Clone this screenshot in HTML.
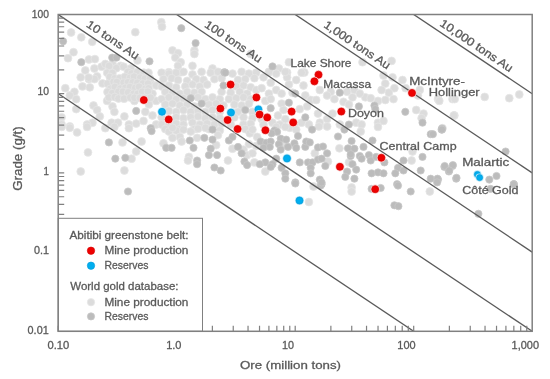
<!DOCTYPE html>
<html><head><meta charset="utf-8"><style>
html,body{margin:0;padding:0;background:#fff;width:550px;height:379px;overflow:hidden}
text{font-family:"Liberation Sans",sans-serif}
svg{will-change:transform}
</style></head><body>
<svg width="550" height="379" viewBox="0 0 550 379" style="display:block">
<rect width="550" height="379" fill="#fff"/>
<defs><clipPath id="pc"><rect x="58.2" y="14.5" width="474.00000000000006" height="316.8"/></clipPath></defs>
<g clip-path="url(#pc)">
<circle cx="71.1" cy="32.5" r="3.9" fill="#dcdcdc" stroke="#e6e6e6" stroke-width="0.8"/>
<circle cx="81.3" cy="37.3" r="3.9" fill="#dcdcdc" stroke="#e6e6e6" stroke-width="0.8"/>
<circle cx="92.2" cy="41.8" r="3.9" fill="#dcdcdc" stroke="#e6e6e6" stroke-width="0.8"/>
<circle cx="135.3" cy="32.2" r="3.9" fill="#dcdcdc" stroke="#e6e6e6" stroke-width="0.8"/>
<circle cx="73.5" cy="52.2" r="3.9" fill="#dcdcdc" stroke="#e6e6e6" stroke-width="0.8"/>
<circle cx="68.0" cy="58.2" r="3.9" fill="#dcdcdc" stroke="#e6e6e6" stroke-width="0.8"/>
<circle cx="88.9" cy="59.5" r="3.9" fill="#dcdcdc" stroke="#e6e6e6" stroke-width="0.8"/>
<circle cx="94.9" cy="59.1" r="3.9" fill="#dcdcdc" stroke="#e6e6e6" stroke-width="0.8"/>
<circle cx="137.5" cy="60.4" r="3.9" fill="#dcdcdc" stroke="#e6e6e6" stroke-width="0.8"/>
<circle cx="85.3" cy="70.4" r="3.9" fill="#dcdcdc" stroke="#e6e6e6" stroke-width="0.8"/>
<circle cx="94.4" cy="68.5" r="3.9" fill="#dcdcdc" stroke="#e6e6e6" stroke-width="0.8"/>
<circle cx="101.6" cy="66.7" r="3.9" fill="#dcdcdc" stroke="#e6e6e6" stroke-width="0.8"/>
<circle cx="105.3" cy="64.0" r="3.9" fill="#dcdcdc" stroke="#e6e6e6" stroke-width="0.8"/>
<circle cx="112.5" cy="64.0" r="3.9" fill="#dcdcdc" stroke="#e6e6e6" stroke-width="0.8"/>
<circle cx="120.7" cy="65.8" r="3.9" fill="#dcdcdc" stroke="#e6e6e6" stroke-width="0.8"/>
<circle cx="130.7" cy="68.5" r="3.9" fill="#dcdcdc" stroke="#e6e6e6" stroke-width="0.8"/>
<circle cx="161.3" cy="22.2" r="3.9" fill="#dcdcdc" stroke="#e6e6e6" stroke-width="0.8"/>
<circle cx="162.0" cy="26.7" r="3.9" fill="#dcdcdc" stroke="#e6e6e6" stroke-width="0.8"/>
<circle cx="194.4" cy="50.4" r="3.9" fill="#dcdcdc" stroke="#e6e6e6" stroke-width="0.8"/>
<circle cx="194.4" cy="54.0" r="3.9" fill="#dcdcdc" stroke="#e6e6e6" stroke-width="0.8"/>
<circle cx="172.5" cy="50.4" r="3.9" fill="#dcdcdc" stroke="#e6e6e6" stroke-width="0.8"/>
<circle cx="178.0" cy="53.1" r="3.9" fill="#dcdcdc" stroke="#e6e6e6" stroke-width="0.8"/>
<circle cx="175.3" cy="57.6" r="3.9" fill="#dcdcdc" stroke="#e6e6e6" stroke-width="0.8"/>
<circle cx="180.7" cy="62.2" r="3.9" fill="#dcdcdc" stroke="#e6e6e6" stroke-width="0.8"/>
<circle cx="178.0" cy="65.8" r="3.9" fill="#dcdcdc" stroke="#e6e6e6" stroke-width="0.8"/>
<circle cx="192.5" cy="65.8" r="3.9" fill="#dcdcdc" stroke="#e6e6e6" stroke-width="0.8"/>
<circle cx="212.5" cy="68.5" r="3.9" fill="#dcdcdc" stroke="#e6e6e6" stroke-width="0.8"/>
<circle cx="218.0" cy="72.2" r="3.9" fill="#dcdcdc" stroke="#e6e6e6" stroke-width="0.8"/>
<circle cx="168.9" cy="72.2" r="3.9" fill="#dcdcdc" stroke="#e6e6e6" stroke-width="0.8"/>
<circle cx="181.6" cy="72.2" r="3.9" fill="#dcdcdc" stroke="#e6e6e6" stroke-width="0.8"/>
<circle cx="250.7" cy="54.0" r="3.9" fill="#dcdcdc" stroke="#e6e6e6" stroke-width="0.8"/>
<circle cx="278.9" cy="68.5" r="3.9" fill="#dcdcdc" stroke="#e6e6e6" stroke-width="0.8"/>
<circle cx="268.9" cy="72.2" r="3.9" fill="#dcdcdc" stroke="#e6e6e6" stroke-width="0.8"/>
<circle cx="288.9" cy="62.2" r="3.9" fill="#dcdcdc" stroke="#e6e6e6" stroke-width="0.8"/>
<circle cx="287.1" cy="72.5" r="3.9" fill="#dcdcdc" stroke="#e6e6e6" stroke-width="0.8"/>
<circle cx="304.4" cy="72.5" r="3.9" fill="#dcdcdc" stroke="#e6e6e6" stroke-width="0.8"/>
<circle cx="362.5" cy="62.2" r="3.9" fill="#dcdcdc" stroke="#e6e6e6" stroke-width="0.8"/>
<circle cx="391.6" cy="60.9" r="3.9" fill="#dcdcdc" stroke="#e6e6e6" stroke-width="0.8"/>
<circle cx="80.7" cy="77.3" r="3.9" fill="#dcdcdc" stroke="#e6e6e6" stroke-width="0.8"/>
<circle cx="88.9" cy="79.1" r="3.9" fill="#dcdcdc" stroke="#e6e6e6" stroke-width="0.8"/>
<circle cx="97.1" cy="76.4" r="3.9" fill="#dcdcdc" stroke="#e6e6e6" stroke-width="0.8"/>
<circle cx="82.5" cy="86.4" r="3.9" fill="#dcdcdc" stroke="#e6e6e6" stroke-width="0.8"/>
<circle cx="89.8" cy="87.3" r="3.9" fill="#dcdcdc" stroke="#e6e6e6" stroke-width="0.8"/>
<circle cx="150.7" cy="82.7" r="3.9" fill="#dcdcdc" stroke="#e6e6e6" stroke-width="0.8"/>
<circle cx="156.2" cy="85.5" r="3.9" fill="#dcdcdc" stroke="#e6e6e6" stroke-width="0.8"/>
<circle cx="65.3" cy="88.2" r="3.9" fill="#dcdcdc" stroke="#e6e6e6" stroke-width="0.8"/>
<circle cx="74.4" cy="91.8" r="3.9" fill="#dcdcdc" stroke="#e6e6e6" stroke-width="0.8"/>
<circle cx="69.8" cy="95.5" r="3.9" fill="#dcdcdc" stroke="#e6e6e6" stroke-width="0.8"/>
<circle cx="76.2" cy="99.1" r="3.9" fill="#dcdcdc" stroke="#e6e6e6" stroke-width="0.8"/>
<circle cx="134.4" cy="100.9" r="3.9" fill="#dcdcdc" stroke="#e6e6e6" stroke-width="0.8"/>
<circle cx="152.5" cy="93.6" r="3.9" fill="#dcdcdc" stroke="#e6e6e6" stroke-width="0.8"/>
<circle cx="156.2" cy="100.9" r="3.9" fill="#dcdcdc" stroke="#e6e6e6" stroke-width="0.8"/>
<circle cx="148.9" cy="104.5" r="3.9" fill="#dcdcdc" stroke="#e6e6e6" stroke-width="0.8"/>
<circle cx="93.5" cy="105.5" r="3.9" fill="#dcdcdc" stroke="#e6e6e6" stroke-width="0.8"/>
<circle cx="97.1" cy="110.0" r="3.9" fill="#dcdcdc" stroke="#e6e6e6" stroke-width="0.8"/>
<circle cx="112.5" cy="106.4" r="3.9" fill="#dcdcdc" stroke="#e6e6e6" stroke-width="0.8"/>
<circle cx="114.4" cy="111.8" r="3.9" fill="#dcdcdc" stroke="#e6e6e6" stroke-width="0.8"/>
<circle cx="76.2" cy="109.1" r="3.9" fill="#dcdcdc" stroke="#e6e6e6" stroke-width="0.8"/>
<circle cx="145.3" cy="111.8" r="3.9" fill="#dcdcdc" stroke="#e6e6e6" stroke-width="0.8"/>
<circle cx="152.5" cy="115.5" r="3.9" fill="#dcdcdc" stroke="#e6e6e6" stroke-width="0.8"/>
<circle cx="124.4" cy="116.4" r="3.9" fill="#dcdcdc" stroke="#e6e6e6" stroke-width="0.8"/>
<circle cx="99.8" cy="116.4" r="3.9" fill="#dcdcdc" stroke="#e6e6e6" stroke-width="0.8"/>
<circle cx="92.5" cy="122.7" r="3.9" fill="#dcdcdc" stroke="#e6e6e6" stroke-width="0.8"/>
<circle cx="87.1" cy="124.5" r="3.9" fill="#dcdcdc" stroke="#e6e6e6" stroke-width="0.8"/>
<circle cx="61.6" cy="117.3" r="3.9" fill="#dcdcdc" stroke="#e6e6e6" stroke-width="0.8"/>
<circle cx="61.6" cy="124.5" r="3.9" fill="#dcdcdc" stroke="#e6e6e6" stroke-width="0.8"/>
<circle cx="69.8" cy="126.4" r="3.9" fill="#dcdcdc" stroke="#e6e6e6" stroke-width="0.8"/>
<circle cx="111.6" cy="122.7" r="3.9" fill="#dcdcdc" stroke="#e6e6e6" stroke-width="0.8"/>
<circle cx="118.0" cy="122.7" r="3.9" fill="#dcdcdc" stroke="#e6e6e6" stroke-width="0.8"/>
<circle cx="128.9" cy="124.5" r="3.9" fill="#dcdcdc" stroke="#e6e6e6" stroke-width="0.8"/>
<circle cx="136.2" cy="123.6" r="3.9" fill="#dcdcdc" stroke="#e6e6e6" stroke-width="0.8"/>
<circle cx="143.5" cy="120.9" r="3.9" fill="#dcdcdc" stroke="#e6e6e6" stroke-width="0.8"/>
<circle cx="156.2" cy="124.5" r="3.9" fill="#dcdcdc" stroke="#e6e6e6" stroke-width="0.8"/>
<circle cx="107.1" cy="100.9" r="3.9" fill="#dcdcdc" stroke="#e6e6e6" stroke-width="0.8"/>
<circle cx="161.6" cy="72.7" r="3.9" fill="#dcdcdc" stroke="#e6e6e6" stroke-width="0.8"/>
<circle cx="168.9" cy="73.6" r="3.9" fill="#dcdcdc" stroke="#e6e6e6" stroke-width="0.8"/>
<circle cx="176.2" cy="72.7" r="3.9" fill="#dcdcdc" stroke="#e6e6e6" stroke-width="0.8"/>
<circle cx="183.5" cy="71.8" r="3.9" fill="#dcdcdc" stroke="#e6e6e6" stroke-width="0.8"/>
<circle cx="192.5" cy="74.5" r="3.9" fill="#dcdcdc" stroke="#e6e6e6" stroke-width="0.8"/>
<circle cx="201.6" cy="71.8" r="3.9" fill="#dcdcdc" stroke="#e6e6e6" stroke-width="0.8"/>
<circle cx="210.7" cy="72.7" r="3.9" fill="#dcdcdc" stroke="#e6e6e6" stroke-width="0.8"/>
<circle cx="218.0" cy="71.8" r="3.9" fill="#dcdcdc" stroke="#e6e6e6" stroke-width="0.8"/>
<circle cx="232.5" cy="73.6" r="3.9" fill="#dcdcdc" stroke="#e6e6e6" stroke-width="0.8"/>
<circle cx="241.6" cy="71.8" r="3.9" fill="#dcdcdc" stroke="#e6e6e6" stroke-width="0.8"/>
<circle cx="248.9" cy="73.6" r="3.9" fill="#dcdcdc" stroke="#e6e6e6" stroke-width="0.8"/>
<circle cx="256.2" cy="72.7" r="3.9" fill="#dcdcdc" stroke="#e6e6e6" stroke-width="0.8"/>
<circle cx="163.5" cy="79.1" r="3.9" fill="#dcdcdc" stroke="#e6e6e6" stroke-width="0.8"/>
<circle cx="171.6" cy="78.2" r="3.9" fill="#dcdcdc" stroke="#e6e6e6" stroke-width="0.8"/>
<circle cx="178.0" cy="80.0" r="3.9" fill="#dcdcdc" stroke="#e6e6e6" stroke-width="0.8"/>
<circle cx="187.1" cy="80.9" r="3.9" fill="#dcdcdc" stroke="#e6e6e6" stroke-width="0.8"/>
<circle cx="196.2" cy="79.1" r="3.9" fill="#dcdcdc" stroke="#e6e6e6" stroke-width="0.8"/>
<circle cx="203.5" cy="80.0" r="3.9" fill="#dcdcdc" stroke="#e6e6e6" stroke-width="0.8"/>
<circle cx="214.4" cy="79.1" r="3.9" fill="#dcdcdc" stroke="#e6e6e6" stroke-width="0.8"/>
<circle cx="221.6" cy="78.2" r="3.9" fill="#dcdcdc" stroke="#e6e6e6" stroke-width="0.8"/>
<circle cx="238.0" cy="80.0" r="3.9" fill="#dcdcdc" stroke="#e6e6e6" stroke-width="0.8"/>
<circle cx="245.3" cy="79.1" r="3.9" fill="#dcdcdc" stroke="#e6e6e6" stroke-width="0.8"/>
<circle cx="254.4" cy="78.2" r="3.9" fill="#dcdcdc" stroke="#e6e6e6" stroke-width="0.8"/>
<circle cx="161.6" cy="86.4" r="3.9" fill="#dcdcdc" stroke="#e6e6e6" stroke-width="0.8"/>
<circle cx="168.9" cy="85.5" r="3.9" fill="#dcdcdc" stroke="#e6e6e6" stroke-width="0.8"/>
<circle cx="176.2" cy="87.3" r="3.9" fill="#dcdcdc" stroke="#e6e6e6" stroke-width="0.8"/>
<circle cx="185.3" cy="86.4" r="3.9" fill="#dcdcdc" stroke="#e6e6e6" stroke-width="0.8"/>
<circle cx="192.5" cy="84.5" r="3.9" fill="#dcdcdc" stroke="#e6e6e6" stroke-width="0.8"/>
<circle cx="199.8" cy="86.4" r="3.9" fill="#dcdcdc" stroke="#e6e6e6" stroke-width="0.8"/>
<circle cx="207.1" cy="84.5" r="3.9" fill="#dcdcdc" stroke="#e6e6e6" stroke-width="0.8"/>
<circle cx="236.2" cy="86.4" r="3.9" fill="#dcdcdc" stroke="#e6e6e6" stroke-width="0.8"/>
<circle cx="243.5" cy="85.5" r="3.9" fill="#dcdcdc" stroke="#e6e6e6" stroke-width="0.8"/>
<circle cx="250.7" cy="87.3" r="3.9" fill="#dcdcdc" stroke="#e6e6e6" stroke-width="0.8"/>
<circle cx="165.3" cy="91.8" r="3.9" fill="#dcdcdc" stroke="#e6e6e6" stroke-width="0.8"/>
<circle cx="172.5" cy="92.7" r="3.9" fill="#dcdcdc" stroke="#e6e6e6" stroke-width="0.8"/>
<circle cx="179.8" cy="93.6" r="3.9" fill="#dcdcdc" stroke="#e6e6e6" stroke-width="0.8"/>
<circle cx="187.1" cy="91.8" r="3.9" fill="#dcdcdc" stroke="#e6e6e6" stroke-width="0.8"/>
<circle cx="194.4" cy="92.7" r="3.9" fill="#dcdcdc" stroke="#e6e6e6" stroke-width="0.8"/>
<circle cx="201.6" cy="91.8" r="3.9" fill="#dcdcdc" stroke="#e6e6e6" stroke-width="0.8"/>
<circle cx="221.6" cy="91.8" r="3.9" fill="#dcdcdc" stroke="#e6e6e6" stroke-width="0.8"/>
<circle cx="230.7" cy="92.7" r="3.9" fill="#dcdcdc" stroke="#e6e6e6" stroke-width="0.8"/>
<circle cx="239.8" cy="91.8" r="3.9" fill="#dcdcdc" stroke="#e6e6e6" stroke-width="0.8"/>
<circle cx="247.1" cy="93.6" r="3.9" fill="#dcdcdc" stroke="#e6e6e6" stroke-width="0.8"/>
<circle cx="256.2" cy="90.0" r="3.9" fill="#dcdcdc" stroke="#e6e6e6" stroke-width="0.8"/>
<circle cx="161.6" cy="99.1" r="3.9" fill="#dcdcdc" stroke="#e6e6e6" stroke-width="0.8"/>
<circle cx="168.9" cy="97.3" r="3.9" fill="#dcdcdc" stroke="#e6e6e6" stroke-width="0.8"/>
<circle cx="176.2" cy="99.1" r="3.9" fill="#dcdcdc" stroke="#e6e6e6" stroke-width="0.8"/>
<circle cx="183.5" cy="98.2" r="3.9" fill="#dcdcdc" stroke="#e6e6e6" stroke-width="0.8"/>
<circle cx="198.0" cy="97.3" r="3.9" fill="#dcdcdc" stroke="#e6e6e6" stroke-width="0.8"/>
<circle cx="205.3" cy="99.1" r="3.9" fill="#dcdcdc" stroke="#e6e6e6" stroke-width="0.8"/>
<circle cx="212.5" cy="97.3" r="3.9" fill="#dcdcdc" stroke="#e6e6e6" stroke-width="0.8"/>
<circle cx="219.8" cy="99.1" r="3.9" fill="#dcdcdc" stroke="#e6e6e6" stroke-width="0.8"/>
<circle cx="228.9" cy="99.1" r="3.9" fill="#dcdcdc" stroke="#e6e6e6" stroke-width="0.8"/>
<circle cx="236.2" cy="98.2" r="3.9" fill="#dcdcdc" stroke="#e6e6e6" stroke-width="0.8"/>
<circle cx="243.5" cy="97.3" r="3.9" fill="#dcdcdc" stroke="#e6e6e6" stroke-width="0.8"/>
<circle cx="250.7" cy="99.1" r="3.9" fill="#dcdcdc" stroke="#e6e6e6" stroke-width="0.8"/>
<circle cx="165.3" cy="104.5" r="3.9" fill="#dcdcdc" stroke="#e6e6e6" stroke-width="0.8"/>
<circle cx="172.5" cy="103.6" r="3.9" fill="#dcdcdc" stroke="#e6e6e6" stroke-width="0.8"/>
<circle cx="179.8" cy="105.5" r="3.9" fill="#dcdcdc" stroke="#e6e6e6" stroke-width="0.8"/>
<circle cx="187.1" cy="104.5" r="3.9" fill="#dcdcdc" stroke="#e6e6e6" stroke-width="0.8"/>
<circle cx="194.4" cy="106.4" r="3.9" fill="#dcdcdc" stroke="#e6e6e6" stroke-width="0.8"/>
<circle cx="208.9" cy="104.5" r="3.9" fill="#dcdcdc" stroke="#e6e6e6" stroke-width="0.8"/>
<circle cx="216.2" cy="103.6" r="3.9" fill="#dcdcdc" stroke="#e6e6e6" stroke-width="0.8"/>
<circle cx="223.5" cy="105.5" r="3.9" fill="#dcdcdc" stroke="#e6e6e6" stroke-width="0.8"/>
<circle cx="234.4" cy="104.5" r="3.9" fill="#dcdcdc" stroke="#e6e6e6" stroke-width="0.8"/>
<circle cx="241.6" cy="105.5" r="3.9" fill="#dcdcdc" stroke="#e6e6e6" stroke-width="0.8"/>
<circle cx="248.9" cy="103.6" r="3.9" fill="#dcdcdc" stroke="#e6e6e6" stroke-width="0.8"/>
<circle cx="168.9" cy="110.9" r="3.9" fill="#dcdcdc" stroke="#e6e6e6" stroke-width="0.8"/>
<circle cx="176.2" cy="111.8" r="3.9" fill="#dcdcdc" stroke="#e6e6e6" stroke-width="0.8"/>
<circle cx="183.5" cy="110.0" r="3.9" fill="#dcdcdc" stroke="#e6e6e6" stroke-width="0.8"/>
<circle cx="190.7" cy="111.8" r="3.9" fill="#dcdcdc" stroke="#e6e6e6" stroke-width="0.8"/>
<circle cx="198.0" cy="110.9" r="3.9" fill="#dcdcdc" stroke="#e6e6e6" stroke-width="0.8"/>
<circle cx="205.3" cy="111.8" r="3.9" fill="#dcdcdc" stroke="#e6e6e6" stroke-width="0.8"/>
<circle cx="212.5" cy="110.0" r="3.9" fill="#dcdcdc" stroke="#e6e6e6" stroke-width="0.8"/>
<circle cx="219.8" cy="111.8" r="3.9" fill="#dcdcdc" stroke="#e6e6e6" stroke-width="0.8"/>
<circle cx="238.0" cy="111.8" r="3.9" fill="#dcdcdc" stroke="#e6e6e6" stroke-width="0.8"/>
<circle cx="252.5" cy="111.8" r="3.9" fill="#dcdcdc" stroke="#e6e6e6" stroke-width="0.8"/>
<circle cx="161.6" cy="117.3" r="3.9" fill="#dcdcdc" stroke="#e6e6e6" stroke-width="0.8"/>
<circle cx="176.2" cy="117.3" r="3.9" fill="#dcdcdc" stroke="#e6e6e6" stroke-width="0.8"/>
<circle cx="183.5" cy="118.2" r="3.9" fill="#dcdcdc" stroke="#e6e6e6" stroke-width="0.8"/>
<circle cx="190.7" cy="117.3" r="3.9" fill="#dcdcdc" stroke="#e6e6e6" stroke-width="0.8"/>
<circle cx="198.0" cy="116.4" r="3.9" fill="#dcdcdc" stroke="#e6e6e6" stroke-width="0.8"/>
<circle cx="205.3" cy="118.2" r="3.9" fill="#dcdcdc" stroke="#e6e6e6" stroke-width="0.8"/>
<circle cx="212.5" cy="117.3" r="3.9" fill="#dcdcdc" stroke="#e6e6e6" stroke-width="0.8"/>
<circle cx="219.8" cy="118.2" r="3.9" fill="#dcdcdc" stroke="#e6e6e6" stroke-width="0.8"/>
<circle cx="234.4" cy="117.3" r="3.9" fill="#dcdcdc" stroke="#e6e6e6" stroke-width="0.8"/>
<circle cx="243.5" cy="117.3" r="3.9" fill="#dcdcdc" stroke="#e6e6e6" stroke-width="0.8"/>
<circle cx="252.5" cy="118.2" r="3.9" fill="#dcdcdc" stroke="#e6e6e6" stroke-width="0.8"/>
<circle cx="161.6" cy="124.5" r="3.9" fill="#dcdcdc" stroke="#e6e6e6" stroke-width="0.8"/>
<circle cx="168.9" cy="124.5" r="3.9" fill="#dcdcdc" stroke="#e6e6e6" stroke-width="0.8"/>
<circle cx="176.2" cy="123.6" r="3.9" fill="#dcdcdc" stroke="#e6e6e6" stroke-width="0.8"/>
<circle cx="183.5" cy="124.5" r="3.9" fill="#dcdcdc" stroke="#e6e6e6" stroke-width="0.8"/>
<circle cx="192.5" cy="122.7" r="3.9" fill="#dcdcdc" stroke="#e6e6e6" stroke-width="0.8"/>
<circle cx="199.8" cy="124.5" r="3.9" fill="#dcdcdc" stroke="#e6e6e6" stroke-width="0.8"/>
<circle cx="207.1" cy="123.6" r="3.9" fill="#dcdcdc" stroke="#e6e6e6" stroke-width="0.8"/>
<circle cx="214.4" cy="124.5" r="3.9" fill="#dcdcdc" stroke="#e6e6e6" stroke-width="0.8"/>
<circle cx="221.6" cy="123.6" r="3.9" fill="#dcdcdc" stroke="#e6e6e6" stroke-width="0.8"/>
<circle cx="230.7" cy="124.5" r="3.9" fill="#dcdcdc" stroke="#e6e6e6" stroke-width="0.8"/>
<circle cx="243.5" cy="124.5" r="3.9" fill="#dcdcdc" stroke="#e6e6e6" stroke-width="0.8"/>
<circle cx="250.7" cy="123.6" r="3.9" fill="#dcdcdc" stroke="#e6e6e6" stroke-width="0.8"/>
<circle cx="165.3" cy="129.1" r="3.9" fill="#dcdcdc" stroke="#e6e6e6" stroke-width="0.8"/>
<circle cx="179.8" cy="129.1" r="3.9" fill="#dcdcdc" stroke="#e6e6e6" stroke-width="0.8"/>
<circle cx="194.4" cy="129.1" r="3.9" fill="#dcdcdc" stroke="#e6e6e6" stroke-width="0.8"/>
<circle cx="208.9" cy="129.1" r="3.9" fill="#dcdcdc" stroke="#e6e6e6" stroke-width="0.8"/>
<circle cx="245.3" cy="129.1" r="3.9" fill="#dcdcdc" stroke="#e6e6e6" stroke-width="0.8"/>
<circle cx="263.5" cy="77.3" r="3.9" fill="#dcdcdc" stroke="#e6e6e6" stroke-width="0.8"/>
<circle cx="270.7" cy="82.7" r="3.9" fill="#dcdcdc" stroke="#e6e6e6" stroke-width="0.8"/>
<circle cx="261.6" cy="88.2" r="3.9" fill="#dcdcdc" stroke="#e6e6e6" stroke-width="0.8"/>
<circle cx="268.9" cy="93.6" r="3.9" fill="#dcdcdc" stroke="#e6e6e6" stroke-width="0.8"/>
<circle cx="276.2" cy="90.0" r="3.9" fill="#dcdcdc" stroke="#e6e6e6" stroke-width="0.8"/>
<circle cx="281.6" cy="93.6" r="3.9" fill="#dcdcdc" stroke="#e6e6e6" stroke-width="0.8"/>
<circle cx="287.1" cy="77.3" r="3.9" fill="#dcdcdc" stroke="#e6e6e6" stroke-width="0.8"/>
<circle cx="288.9" cy="84.5" r="3.9" fill="#dcdcdc" stroke="#e6e6e6" stroke-width="0.8"/>
<circle cx="296.2" cy="80.0" r="3.9" fill="#dcdcdc" stroke="#e6e6e6" stroke-width="0.8"/>
<circle cx="303.5" cy="85.5" r="3.9" fill="#dcdcdc" stroke="#e6e6e6" stroke-width="0.8"/>
<circle cx="301.6" cy="72.7" r="3.9" fill="#dcdcdc" stroke="#e6e6e6" stroke-width="0.8"/>
<circle cx="285.3" cy="71.8" r="3.9" fill="#dcdcdc" stroke="#e6e6e6" stroke-width="0.8"/>
<circle cx="292.5" cy="92.7" r="3.9" fill="#dcdcdc" stroke="#e6e6e6" stroke-width="0.8"/>
<circle cx="305.3" cy="95.5" r="3.9" fill="#dcdcdc" stroke="#e6e6e6" stroke-width="0.8"/>
<circle cx="310.7" cy="100.0" r="3.9" fill="#dcdcdc" stroke="#e6e6e6" stroke-width="0.8"/>
<circle cx="316.2" cy="100.0" r="3.9" fill="#dcdcdc" stroke="#e6e6e6" stroke-width="0.8"/>
<circle cx="265.3" cy="100.9" r="3.9" fill="#dcdcdc" stroke="#e6e6e6" stroke-width="0.8"/>
<circle cx="270.7" cy="99.1" r="3.9" fill="#dcdcdc" stroke="#e6e6e6" stroke-width="0.8"/>
<circle cx="281.6" cy="103.6" r="3.9" fill="#dcdcdc" stroke="#e6e6e6" stroke-width="0.8"/>
<circle cx="283.5" cy="110.0" r="3.9" fill="#dcdcdc" stroke="#e6e6e6" stroke-width="0.8"/>
<circle cx="278.0" cy="115.5" r="3.9" fill="#dcdcdc" stroke="#e6e6e6" stroke-width="0.8"/>
<circle cx="272.5" cy="122.7" r="3.9" fill="#dcdcdc" stroke="#e6e6e6" stroke-width="0.8"/>
<circle cx="279.8" cy="124.5" r="3.9" fill="#dcdcdc" stroke="#e6e6e6" stroke-width="0.8"/>
<circle cx="285.3" cy="119.1" r="3.9" fill="#dcdcdc" stroke="#e6e6e6" stroke-width="0.8"/>
<circle cx="299.8" cy="109.1" r="3.9" fill="#dcdcdc" stroke="#e6e6e6" stroke-width="0.8"/>
<circle cx="307.1" cy="106.4" r="3.9" fill="#dcdcdc" stroke="#e6e6e6" stroke-width="0.8"/>
<circle cx="301.6" cy="122.7" r="3.9" fill="#dcdcdc" stroke="#e6e6e6" stroke-width="0.8"/>
<circle cx="308.9" cy="124.5" r="3.9" fill="#dcdcdc" stroke="#e6e6e6" stroke-width="0.8"/>
<circle cx="318.0" cy="113.6" r="3.9" fill="#dcdcdc" stroke="#e6e6e6" stroke-width="0.8"/>
<circle cx="319.8" cy="122.7" r="3.9" fill="#dcdcdc" stroke="#e6e6e6" stroke-width="0.8"/>
<circle cx="327.1" cy="119.1" r="3.9" fill="#dcdcdc" stroke="#e6e6e6" stroke-width="0.8"/>
<circle cx="332.5" cy="113.6" r="3.9" fill="#dcdcdc" stroke="#e6e6e6" stroke-width="0.8"/>
<circle cx="339.8" cy="124.5" r="3.9" fill="#dcdcdc" stroke="#e6e6e6" stroke-width="0.8"/>
<circle cx="356.2" cy="122.7" r="3.9" fill="#dcdcdc" stroke="#e6e6e6" stroke-width="0.8"/>
<circle cx="330.7" cy="91.8" r="3.9" fill="#dcdcdc" stroke="#e6e6e6" stroke-width="0.8"/>
<circle cx="347.1" cy="91.8" r="3.9" fill="#dcdcdc" stroke="#e6e6e6" stroke-width="0.8"/>
<circle cx="354.4" cy="90.0" r="3.9" fill="#dcdcdc" stroke="#e6e6e6" stroke-width="0.8"/>
<circle cx="352.5" cy="97.3" r="3.9" fill="#dcdcdc" stroke="#e6e6e6" stroke-width="0.8"/>
<circle cx="334.4" cy="99.1" r="3.9" fill="#dcdcdc" stroke="#e6e6e6" stroke-width="0.8"/>
<circle cx="343.5" cy="101.8" r="3.9" fill="#dcdcdc" stroke="#e6e6e6" stroke-width="0.8"/>
<circle cx="348.9" cy="104.5" r="3.9" fill="#dcdcdc" stroke="#e6e6e6" stroke-width="0.8"/>
<circle cx="319.8" cy="90.0" r="3.9" fill="#dcdcdc" stroke="#e6e6e6" stroke-width="0.8"/>
<circle cx="327.1" cy="95.5" r="3.9" fill="#dcdcdc" stroke="#e6e6e6" stroke-width="0.8"/>
<circle cx="261.6" cy="119.1" r="3.9" fill="#dcdcdc" stroke="#e6e6e6" stroke-width="0.8"/>
<circle cx="263.5" cy="124.5" r="3.9" fill="#dcdcdc" stroke="#e6e6e6" stroke-width="0.8"/>
<circle cx="294.4" cy="124.5" r="3.9" fill="#dcdcdc" stroke="#e6e6e6" stroke-width="0.8"/>
<circle cx="276.2" cy="73.6" r="3.9" fill="#dcdcdc" stroke="#e6e6e6" stroke-width="0.8"/>
<circle cx="268.9" cy="71.8" r="3.9" fill="#dcdcdc" stroke="#e6e6e6" stroke-width="0.8"/>
<circle cx="383.5" cy="75.5" r="3.9" fill="#dcdcdc" stroke="#e6e6e6" stroke-width="0.8"/>
<circle cx="392.5" cy="77.3" r="3.9" fill="#dcdcdc" stroke="#e6e6e6" stroke-width="0.8"/>
<circle cx="385.3" cy="83.6" r="3.9" fill="#dcdcdc" stroke="#e6e6e6" stroke-width="0.8"/>
<circle cx="394.4" cy="88.2" r="3.9" fill="#dcdcdc" stroke="#e6e6e6" stroke-width="0.8"/>
<circle cx="381.6" cy="90.0" r="3.9" fill="#dcdcdc" stroke="#e6e6e6" stroke-width="0.8"/>
<circle cx="388.9" cy="92.7" r="3.9" fill="#dcdcdc" stroke="#e6e6e6" stroke-width="0.8"/>
<circle cx="402.5" cy="80.0" r="3.9" fill="#dcdcdc" stroke="#e6e6e6" stroke-width="0.8"/>
<circle cx="405.6" cy="88.2" r="3.9" fill="#dcdcdc" stroke="#e6e6e6" stroke-width="0.8"/>
<circle cx="419.8" cy="90.0" r="3.9" fill="#dcdcdc" stroke="#e6e6e6" stroke-width="0.8"/>
<circle cx="418.0" cy="95.5" r="3.9" fill="#dcdcdc" stroke="#e6e6e6" stroke-width="0.8"/>
<circle cx="365.3" cy="97.3" r="3.9" fill="#dcdcdc" stroke="#e6e6e6" stroke-width="0.8"/>
<circle cx="370.7" cy="98.2" r="3.9" fill="#dcdcdc" stroke="#e6e6e6" stroke-width="0.8"/>
<circle cx="378.0" cy="100.9" r="3.9" fill="#dcdcdc" stroke="#e6e6e6" stroke-width="0.8"/>
<circle cx="385.3" cy="100.0" r="3.9" fill="#dcdcdc" stroke="#e6e6e6" stroke-width="0.8"/>
<circle cx="393.5" cy="99.1" r="3.9" fill="#dcdcdc" stroke="#e6e6e6" stroke-width="0.8"/>
<circle cx="359.8" cy="93.6" r="3.9" fill="#dcdcdc" stroke="#e6e6e6" stroke-width="0.8"/>
<circle cx="416.2" cy="110.0" r="3.9" fill="#dcdcdc" stroke="#e6e6e6" stroke-width="0.8"/>
<circle cx="423.5" cy="113.6" r="3.9" fill="#dcdcdc" stroke="#e6e6e6" stroke-width="0.8"/>
<circle cx="421.6" cy="118.2" r="3.9" fill="#dcdcdc" stroke="#e6e6e6" stroke-width="0.8"/>
<circle cx="378.0" cy="122.7" r="3.9" fill="#dcdcdc" stroke="#e6e6e6" stroke-width="0.8"/>
<circle cx="383.5" cy="120.9" r="3.9" fill="#dcdcdc" stroke="#e6e6e6" stroke-width="0.8"/>
<circle cx="438.0" cy="99.1" r="3.9" fill="#dcdcdc" stroke="#e6e6e6" stroke-width="0.8"/>
<circle cx="452.5" cy="99.1" r="3.9" fill="#dcdcdc" stroke="#e6e6e6" stroke-width="0.8"/>
<circle cx="454.4" cy="115.5" r="3.9" fill="#dcdcdc" stroke="#e6e6e6" stroke-width="0.8"/>
<circle cx="442.5" cy="128.2" r="3.9" fill="#dcdcdc" stroke="#e6e6e6" stroke-width="0.8"/>
<circle cx="361.6" cy="124.5" r="3.9" fill="#dcdcdc" stroke="#e6e6e6" stroke-width="0.8"/>
<circle cx="439.3" cy="100.9" r="3.9" fill="#dcdcdc" stroke="#e6e6e6" stroke-width="0.8"/>
<circle cx="454.7" cy="99.1" r="3.9" fill="#dcdcdc" stroke="#e6e6e6" stroke-width="0.8"/>
<circle cx="484.7" cy="96.9" r="3.9" fill="#dcdcdc" stroke="#e6e6e6" stroke-width="0.8"/>
<circle cx="509.3" cy="98.2" r="3.9" fill="#dcdcdc" stroke="#e6e6e6" stroke-width="0.8"/>
<circle cx="519.3" cy="94.5" r="3.9" fill="#dcdcdc" stroke="#e6e6e6" stroke-width="0.8"/>
<circle cx="453.8" cy="115.5" r="3.9" fill="#dcdcdc" stroke="#e6e6e6" stroke-width="0.8"/>
<circle cx="61.6" cy="126.9" r="3.9" fill="#dcdcdc" stroke="#e6e6e6" stroke-width="0.8"/>
<circle cx="69.8" cy="127.8" r="3.9" fill="#dcdcdc" stroke="#e6e6e6" stroke-width="0.8"/>
<circle cx="77.1" cy="132.4" r="3.9" fill="#dcdcdc" stroke="#e6e6e6" stroke-width="0.8"/>
<circle cx="87.1" cy="126.9" r="3.9" fill="#dcdcdc" stroke="#e6e6e6" stroke-width="0.8"/>
<circle cx="122.5" cy="142.4" r="3.9" fill="#dcdcdc" stroke="#e6e6e6" stroke-width="0.8"/>
<circle cx="141.6" cy="141.5" r="3.9" fill="#dcdcdc" stroke="#e6e6e6" stroke-width="0.8"/>
<circle cx="136.2" cy="151.5" r="3.9" fill="#dcdcdc" stroke="#e6e6e6" stroke-width="0.8"/>
<circle cx="88.0" cy="152.4" r="3.9" fill="#dcdcdc" stroke="#e6e6e6" stroke-width="0.8"/>
<circle cx="131.6" cy="158.7" r="3.9" fill="#dcdcdc" stroke="#e6e6e6" stroke-width="0.8"/>
<circle cx="80.7" cy="171.5" r="3.9" fill="#dcdcdc" stroke="#e6e6e6" stroke-width="0.8"/>
<circle cx="124.4" cy="170.5" r="3.9" fill="#dcdcdc" stroke="#e6e6e6" stroke-width="0.8"/>
<circle cx="105.3" cy="128.2" r="3.9" fill="#dcdcdc" stroke="#e6e6e6" stroke-width="0.8"/>
<circle cx="114.4" cy="126.9" r="3.9" fill="#dcdcdc" stroke="#e6e6e6" stroke-width="0.8"/>
<circle cx="128.9" cy="128.2" r="3.9" fill="#dcdcdc" stroke="#e6e6e6" stroke-width="0.8"/>
<circle cx="168.9" cy="131.5" r="3.9" fill="#dcdcdc" stroke="#e6e6e6" stroke-width="0.8"/>
<circle cx="176.2" cy="130.5" r="3.9" fill="#dcdcdc" stroke="#e6e6e6" stroke-width="0.8"/>
<circle cx="183.5" cy="129.6" r="3.9" fill="#dcdcdc" stroke="#e6e6e6" stroke-width="0.8"/>
<circle cx="190.7" cy="131.5" r="3.9" fill="#dcdcdc" stroke="#e6e6e6" stroke-width="0.8"/>
<circle cx="198.0" cy="128.7" r="3.9" fill="#dcdcdc" stroke="#e6e6e6" stroke-width="0.8"/>
<circle cx="205.3" cy="127.8" r="3.9" fill="#dcdcdc" stroke="#e6e6e6" stroke-width="0.8"/>
<circle cx="219.8" cy="130.5" r="3.9" fill="#dcdcdc" stroke="#e6e6e6" stroke-width="0.8"/>
<circle cx="172.5" cy="127.8" r="3.9" fill="#dcdcdc" stroke="#e6e6e6" stroke-width="0.8"/>
<circle cx="179.8" cy="136.9" r="3.9" fill="#dcdcdc" stroke="#e6e6e6" stroke-width="0.8"/>
<circle cx="172.5" cy="137.8" r="3.9" fill="#dcdcdc" stroke="#e6e6e6" stroke-width="0.8"/>
<circle cx="163.5" cy="143.3" r="3.9" fill="#dcdcdc" stroke="#e6e6e6" stroke-width="0.8"/>
<circle cx="181.6" cy="141.5" r="3.9" fill="#dcdcdc" stroke="#e6e6e6" stroke-width="0.8"/>
<circle cx="197.1" cy="137.8" r="3.9" fill="#dcdcdc" stroke="#e6e6e6" stroke-width="0.8"/>
<circle cx="218.0" cy="135.1" r="3.9" fill="#dcdcdc" stroke="#e6e6e6" stroke-width="0.8"/>
<circle cx="216.2" cy="145.1" r="3.9" fill="#dcdcdc" stroke="#e6e6e6" stroke-width="0.8"/>
<circle cx="188.9" cy="156.9" r="3.9" fill="#dcdcdc" stroke="#e6e6e6" stroke-width="0.8"/>
<circle cx="188.0" cy="160.5" r="3.9" fill="#dcdcdc" stroke="#e6e6e6" stroke-width="0.8"/>
<circle cx="228.0" cy="160.5" r="3.9" fill="#dcdcdc" stroke="#e6e6e6" stroke-width="0.8"/>
<circle cx="232.5" cy="148.7" r="3.9" fill="#dcdcdc" stroke="#e6e6e6" stroke-width="0.8"/>
<circle cx="243.5" cy="149.6" r="3.9" fill="#dcdcdc" stroke="#e6e6e6" stroke-width="0.8"/>
<circle cx="248.9" cy="144.2" r="3.9" fill="#dcdcdc" stroke="#e6e6e6" stroke-width="0.8"/>
<circle cx="256.2" cy="146.0" r="3.9" fill="#dcdcdc" stroke="#e6e6e6" stroke-width="0.8"/>
<circle cx="247.1" cy="155.1" r="3.9" fill="#dcdcdc" stroke="#e6e6e6" stroke-width="0.8"/>
<circle cx="252.5" cy="153.3" r="3.9" fill="#dcdcdc" stroke="#e6e6e6" stroke-width="0.8"/>
<circle cx="254.4" cy="162.4" r="3.9" fill="#dcdcdc" stroke="#e6e6e6" stroke-width="0.8"/>
<circle cx="249.8" cy="133.3" r="3.9" fill="#dcdcdc" stroke="#e6e6e6" stroke-width="0.8"/>
<circle cx="252.5" cy="129.6" r="3.9" fill="#dcdcdc" stroke="#e6e6e6" stroke-width="0.8"/>
<circle cx="257.1" cy="136.9" r="3.9" fill="#dcdcdc" stroke="#e6e6e6" stroke-width="0.8"/>
<circle cx="328.0" cy="161.5" r="3.9" fill="#dcdcdc" stroke="#e6e6e6" stroke-width="0.8"/>
<circle cx="265.3" cy="171.5" r="3.9" fill="#dcdcdc" stroke="#e6e6e6" stroke-width="0.8"/>
<circle cx="348.9" cy="162.4" r="3.9" fill="#dcdcdc" stroke="#e6e6e6" stroke-width="0.8"/>
<circle cx="378.0" cy="126.9" r="3.9" fill="#dcdcdc" stroke="#e6e6e6" stroke-width="0.8"/>
<circle cx="360.7" cy="131.5" r="3.9" fill="#dcdcdc" stroke="#e6e6e6" stroke-width="0.8"/>
<circle cx="411.6" cy="160.5" r="3.9" fill="#dcdcdc" stroke="#e6e6e6" stroke-width="0.8"/>
<circle cx="412.5" cy="151.5" r="3.9" fill="#dcdcdc" stroke="#e6e6e6" stroke-width="0.8"/>
<circle cx="313.5" cy="186.5" r="3.9" fill="#dcdcdc" stroke="#e6e6e6" stroke-width="0.8"/>
<circle cx="308.9" cy="202.0" r="3.9" fill="#dcdcdc" stroke="#e6e6e6" stroke-width="0.8"/>
<circle cx="351.6" cy="187.5" r="3.9" fill="#dcdcdc" stroke="#e6e6e6" stroke-width="0.8"/>
<circle cx="351.6" cy="191.5" r="3.9" fill="#dcdcdc" stroke="#e6e6e6" stroke-width="0.8"/>
<circle cx="429.8" cy="191.5" r="3.9" fill="#dcdcdc" stroke="#e6e6e6" stroke-width="0.8"/>
<circle cx="109.1" cy="66.0" r="3.9" fill="#dcdcdc" stroke="#e6e6e6" stroke-width="0.8"/>
<circle cx="116.4" cy="68.2" r="3.9" fill="#dcdcdc" stroke="#e6e6e6" stroke-width="0.8"/>
<circle cx="94.5" cy="79.1" r="3.9" fill="#dcdcdc" stroke="#e6e6e6" stroke-width="0.8"/>
<circle cx="88.7" cy="77.6" r="3.9" fill="#dcdcdc" stroke="#e6e6e6" stroke-width="0.8"/>
<circle cx="123.6" cy="66.7" r="3.9" fill="#dcdcdc" stroke="#e6e6e6" stroke-width="0.8"/>
<circle cx="289.8" cy="127.8" r="3.9" fill="#dcdcdc" stroke="#e6e6e6" stroke-width="0.8"/>
<circle cx="296.2" cy="129.6" r="3.9" fill="#dcdcdc" stroke="#e6e6e6" stroke-width="0.8"/>
<circle cx="285.3" cy="126.9" r="3.9" fill="#dcdcdc" stroke="#e6e6e6" stroke-width="0.8"/>
<circle cx="276.2" cy="126.9" r="3.9" fill="#dcdcdc" stroke="#e6e6e6" stroke-width="0.8"/>
<circle cx="283.5" cy="145.1" r="3.9" fill="#dcdcdc" stroke="#e6e6e6" stroke-width="0.8"/>
<circle cx="318.9" cy="126.5" r="3.9" fill="#dcdcdc" stroke="#e6e6e6" stroke-width="0.8"/>
<circle cx="327.1" cy="126.5" r="3.9" fill="#dcdcdc" stroke="#e6e6e6" stroke-width="0.8"/>
<circle cx="314.8" cy="153.3" r="3.9" fill="#dcdcdc" stroke="#e6e6e6" stroke-width="0.8"/>
<circle cx="339.4" cy="148.3" r="3.9" fill="#dcdcdc" stroke="#e6e6e6" stroke-width="0.8"/>
<circle cx="107.2" cy="72.8" r="3.9" fill="#dcdcdc" stroke="#e6e6e6" stroke-width="0.8"/>
<circle cx="112.4" cy="73.0" r="3.9" fill="#dcdcdc" stroke="#e6e6e6" stroke-width="0.8"/>
<circle cx="128.0" cy="71.8" r="3.9" fill="#dcdcdc" stroke="#e6e6e6" stroke-width="0.8"/>
<circle cx="131.7" cy="73.5" r="3.9" fill="#dcdcdc" stroke="#e6e6e6" stroke-width="0.8"/>
<circle cx="137.2" cy="72.1" r="3.9" fill="#dcdcdc" stroke="#e6e6e6" stroke-width="0.8"/>
<circle cx="143.8" cy="72.7" r="3.9" fill="#dcdcdc" stroke="#e6e6e6" stroke-width="0.8"/>
<circle cx="148.5" cy="72.7" r="3.9" fill="#dcdcdc" stroke="#e6e6e6" stroke-width="0.8"/>
<circle cx="109.8" cy="77.0" r="3.9" fill="#dcdcdc" stroke="#e6e6e6" stroke-width="0.8"/>
<circle cx="114.8" cy="78.5" r="3.9" fill="#dcdcdc" stroke="#e6e6e6" stroke-width="0.8"/>
<circle cx="119.6" cy="78.3" r="3.9" fill="#dcdcdc" stroke="#e6e6e6" stroke-width="0.8"/>
<circle cx="124.9" cy="76.8" r="3.9" fill="#dcdcdc" stroke="#e6e6e6" stroke-width="0.8"/>
<circle cx="130.1" cy="77.9" r="3.9" fill="#dcdcdc" stroke="#e6e6e6" stroke-width="0.8"/>
<circle cx="134.1" cy="76.7" r="3.9" fill="#dcdcdc" stroke="#e6e6e6" stroke-width="0.8"/>
<circle cx="140.3" cy="77.7" r="3.9" fill="#dcdcdc" stroke="#e6e6e6" stroke-width="0.8"/>
<circle cx="145.0" cy="78.6" r="3.9" fill="#dcdcdc" stroke="#e6e6e6" stroke-width="0.8"/>
<circle cx="150.0" cy="78.6" r="3.9" fill="#dcdcdc" stroke="#e6e6e6" stroke-width="0.8"/>
<circle cx="102.5" cy="83.4" r="3.9" fill="#dcdcdc" stroke="#e6e6e6" stroke-width="0.8"/>
<circle cx="107.6" cy="83.7" r="3.9" fill="#dcdcdc" stroke="#e6e6e6" stroke-width="0.8"/>
<circle cx="113.6" cy="81.8" r="3.9" fill="#dcdcdc" stroke="#e6e6e6" stroke-width="0.8"/>
<circle cx="116.9" cy="82.1" r="3.9" fill="#dcdcdc" stroke="#e6e6e6" stroke-width="0.8"/>
<circle cx="123.7" cy="82.6" r="3.9" fill="#dcdcdc" stroke="#e6e6e6" stroke-width="0.8"/>
<circle cx="128.0" cy="82.3" r="3.9" fill="#dcdcdc" stroke="#e6e6e6" stroke-width="0.8"/>
<circle cx="132.7" cy="82.5" r="3.9" fill="#dcdcdc" stroke="#e6e6e6" stroke-width="0.8"/>
<circle cx="137.4" cy="82.9" r="3.9" fill="#dcdcdc" stroke="#e6e6e6" stroke-width="0.8"/>
<circle cx="142.9" cy="83.6" r="3.9" fill="#dcdcdc" stroke="#e6e6e6" stroke-width="0.8"/>
<circle cx="148.1" cy="83.7" r="3.9" fill="#dcdcdc" stroke="#e6e6e6" stroke-width="0.8"/>
<circle cx="110.3" cy="88.8" r="3.9" fill="#dcdcdc" stroke="#e6e6e6" stroke-width="0.8"/>
<circle cx="114.9" cy="87.0" r="3.9" fill="#dcdcdc" stroke="#e6e6e6" stroke-width="0.8"/>
<circle cx="120.3" cy="88.7" r="3.9" fill="#dcdcdc" stroke="#e6e6e6" stroke-width="0.8"/>
<circle cx="125.4" cy="87.9" r="3.9" fill="#dcdcdc" stroke="#e6e6e6" stroke-width="0.8"/>
<circle cx="130.0" cy="87.1" r="3.9" fill="#dcdcdc" stroke="#e6e6e6" stroke-width="0.8"/>
<circle cx="135.3" cy="87.9" r="3.9" fill="#dcdcdc" stroke="#e6e6e6" stroke-width="0.8"/>
<circle cx="139.1" cy="86.8" r="3.9" fill="#dcdcdc" stroke="#e6e6e6" stroke-width="0.8"/>
<circle cx="145.3" cy="88.8" r="3.9" fill="#dcdcdc" stroke="#e6e6e6" stroke-width="0.8"/>
<circle cx="148.6" cy="88.4" r="3.9" fill="#dcdcdc" stroke="#e6e6e6" stroke-width="0.8"/>
<circle cx="107.5" cy="92.0" r="3.9" fill="#dcdcdc" stroke="#e6e6e6" stroke-width="0.8"/>
<circle cx="112.3" cy="93.3" r="3.9" fill="#dcdcdc" stroke="#e6e6e6" stroke-width="0.8"/>
<circle cx="118.5" cy="91.7" r="3.9" fill="#dcdcdc" stroke="#e6e6e6" stroke-width="0.8"/>
<circle cx="123.0" cy="91.7" r="3.9" fill="#dcdcdc" stroke="#e6e6e6" stroke-width="0.8"/>
<circle cx="128.2" cy="92.4" r="3.9" fill="#dcdcdc" stroke="#e6e6e6" stroke-width="0.8"/>
<circle cx="133.6" cy="93.8" r="3.9" fill="#dcdcdc" stroke="#e6e6e6" stroke-width="0.8"/>
<circle cx="137.7" cy="93.8" r="3.9" fill="#dcdcdc" stroke="#e6e6e6" stroke-width="0.8"/>
<circle cx="142.3" cy="91.8" r="3.9" fill="#dcdcdc" stroke="#e6e6e6" stroke-width="0.8"/>
<circle cx="147.9" cy="91.7" r="3.9" fill="#dcdcdc" stroke="#e6e6e6" stroke-width="0.8"/>
<circle cx="108.9" cy="97.5" r="3.9" fill="#dcdcdc" stroke="#e6e6e6" stroke-width="0.8"/>
<circle cx="114.8" cy="97.0" r="3.9" fill="#dcdcdc" stroke="#e6e6e6" stroke-width="0.8"/>
<circle cx="118.5" cy="98.5" r="3.9" fill="#dcdcdc" stroke="#e6e6e6" stroke-width="0.8"/>
<circle cx="124.1" cy="98.7" r="3.9" fill="#dcdcdc" stroke="#e6e6e6" stroke-width="0.8"/>
<circle cx="130.4" cy="97.5" r="3.9" fill="#dcdcdc" stroke="#e6e6e6" stroke-width="0.8"/>
<circle cx="134.5" cy="97.8" r="3.9" fill="#dcdcdc" stroke="#e6e6e6" stroke-width="0.8"/>
<circle cx="139.9" cy="97.9" r="3.9" fill="#dcdcdc" stroke="#e6e6e6" stroke-width="0.8"/>
<circle cx="144.7" cy="98.0" r="3.9" fill="#dcdcdc" stroke="#e6e6e6" stroke-width="0.8"/>
<circle cx="150.5" cy="97.7" r="3.9" fill="#dcdcdc" stroke="#e6e6e6" stroke-width="0.8"/>
<circle cx="63.1" cy="41.3" r="3.6" fill="#bcbcbc" stroke="#c8c8c8" stroke-width="0.8"/>
<circle cx="81.3" cy="62.2" r="3.6" fill="#bcbcbc" stroke="#c8c8c8" stroke-width="0.8"/>
<circle cx="112.2" cy="57.6" r="3.6" fill="#bcbcbc" stroke="#c8c8c8" stroke-width="0.8"/>
<circle cx="116.5" cy="57.6" r="3.6" fill="#bcbcbc" stroke="#c8c8c8" stroke-width="0.8"/>
<circle cx="149.5" cy="61.3" r="3.6" fill="#bcbcbc" stroke="#c8c8c8" stroke-width="0.8"/>
<circle cx="181.3" cy="28.2" r="3.6" fill="#bcbcbc" stroke="#c8c8c8" stroke-width="0.8"/>
<circle cx="195.6" cy="43.1" r="3.6" fill="#bcbcbc" stroke="#c8c8c8" stroke-width="0.8"/>
<circle cx="224.4" cy="72.2" r="3.6" fill="#bcbcbc" stroke="#c8c8c8" stroke-width="0.8"/>
<circle cx="272.5" cy="66.4" r="3.6" fill="#bcbcbc" stroke="#c8c8c8" stroke-width="0.8"/>
<circle cx="136.2" cy="110.9" r="3.6" fill="#bcbcbc" stroke="#c8c8c8" stroke-width="0.8"/>
<circle cx="150.7" cy="128.2" r="3.6" fill="#bcbcbc" stroke="#c8c8c8" stroke-width="0.8"/>
<circle cx="225.3" cy="72.7" r="3.6" fill="#bcbcbc" stroke="#c8c8c8" stroke-width="0.8"/>
<circle cx="223.5" cy="85.5" r="3.6" fill="#bcbcbc" stroke="#c8c8c8" stroke-width="0.8"/>
<circle cx="190.7" cy="98.2" r="3.6" fill="#bcbcbc" stroke="#c8c8c8" stroke-width="0.8"/>
<circle cx="201.6" cy="103.6" r="3.6" fill="#bcbcbc" stroke="#c8c8c8" stroke-width="0.8"/>
<circle cx="245.3" cy="110.0" r="3.6" fill="#bcbcbc" stroke="#c8c8c8" stroke-width="0.8"/>
<circle cx="295.3" cy="93.6" r="3.6" fill="#bcbcbc" stroke="#c8c8c8" stroke-width="0.8"/>
<circle cx="288.9" cy="102.7" r="3.6" fill="#bcbcbc" stroke="#c8c8c8" stroke-width="0.8"/>
<circle cx="270.7" cy="108.2" r="3.6" fill="#bcbcbc" stroke="#c8c8c8" stroke-width="0.8"/>
<circle cx="305.3" cy="117.3" r="3.6" fill="#bcbcbc" stroke="#c8c8c8" stroke-width="0.8"/>
<circle cx="348.9" cy="124.5" r="3.6" fill="#bcbcbc" stroke="#c8c8c8" stroke-width="0.8"/>
<circle cx="339.8" cy="92.7" r="3.6" fill="#bcbcbc" stroke="#c8c8c8" stroke-width="0.8"/>
<circle cx="358.9" cy="106.4" r="3.6" fill="#bcbcbc" stroke="#c8c8c8" stroke-width="0.8"/>
<circle cx="374.4" cy="105.5" r="3.6" fill="#bcbcbc" stroke="#c8c8c8" stroke-width="0.8"/>
<circle cx="375.3" cy="109.1" r="3.6" fill="#bcbcbc" stroke="#c8c8c8" stroke-width="0.8"/>
<circle cx="405.3" cy="111.8" r="3.6" fill="#bcbcbc" stroke="#c8c8c8" stroke-width="0.8"/>
<circle cx="422.5" cy="122.7" r="3.6" fill="#bcbcbc" stroke="#c8c8c8" stroke-width="0.8"/>
<circle cx="442.0" cy="128.5" r="3.6" fill="#bcbcbc" stroke="#c8c8c8" stroke-width="0.8"/>
<circle cx="108.9" cy="142.4" r="3.6" fill="#bcbcbc" stroke="#c8c8c8" stroke-width="0.8"/>
<circle cx="151.6" cy="131.1" r="3.6" fill="#bcbcbc" stroke="#c8c8c8" stroke-width="0.8"/>
<circle cx="115.3" cy="158.7" r="3.6" fill="#bcbcbc" stroke="#c8c8c8" stroke-width="0.8"/>
<circle cx="125.3" cy="157.8" r="3.6" fill="#bcbcbc" stroke="#c8c8c8" stroke-width="0.8"/>
<circle cx="212.5" cy="129.6" r="3.6" fill="#bcbcbc" stroke="#c8c8c8" stroke-width="0.8"/>
<circle cx="166.2" cy="147.8" r="3.6" fill="#bcbcbc" stroke="#c8c8c8" stroke-width="0.8"/>
<circle cx="171.6" cy="147.8" r="3.6" fill="#bcbcbc" stroke="#c8c8c8" stroke-width="0.8"/>
<circle cx="189.8" cy="140.5" r="3.6" fill="#bcbcbc" stroke="#c8c8c8" stroke-width="0.8"/>
<circle cx="204.4" cy="137.8" r="3.6" fill="#bcbcbc" stroke="#c8c8c8" stroke-width="0.8"/>
<circle cx="212.5" cy="139.6" r="3.6" fill="#bcbcbc" stroke="#c8c8c8" stroke-width="0.8"/>
<circle cx="228.9" cy="140.5" r="3.6" fill="#bcbcbc" stroke="#c8c8c8" stroke-width="0.8"/>
<circle cx="232.5" cy="136.9" r="3.6" fill="#bcbcbc" stroke="#c8c8c8" stroke-width="0.8"/>
<circle cx="193.5" cy="147.8" r="3.6" fill="#bcbcbc" stroke="#c8c8c8" stroke-width="0.8"/>
<circle cx="210.7" cy="148.7" r="3.6" fill="#bcbcbc" stroke="#c8c8c8" stroke-width="0.8"/>
<circle cx="208.9" cy="155.1" r="3.6" fill="#bcbcbc" stroke="#c8c8c8" stroke-width="0.8"/>
<circle cx="217.1" cy="155.1" r="3.6" fill="#bcbcbc" stroke="#c8c8c8" stroke-width="0.8"/>
<circle cx="197.1" cy="160.5" r="3.6" fill="#bcbcbc" stroke="#c8c8c8" stroke-width="0.8"/>
<circle cx="197.1" cy="164.2" r="3.6" fill="#bcbcbc" stroke="#c8c8c8" stroke-width="0.8"/>
<circle cx="214.4" cy="167.5" r="3.6" fill="#bcbcbc" stroke="#c8c8c8" stroke-width="0.8"/>
<circle cx="220.7" cy="170.5" r="3.6" fill="#bcbcbc" stroke="#c8c8c8" stroke-width="0.8"/>
<circle cx="238.0" cy="146.9" r="3.6" fill="#bcbcbc" stroke="#c8c8c8" stroke-width="0.8"/>
<circle cx="241.6" cy="153.3" r="3.6" fill="#bcbcbc" stroke="#c8c8c8" stroke-width="0.8"/>
<circle cx="244.4" cy="161.5" r="3.6" fill="#bcbcbc" stroke="#c8c8c8" stroke-width="0.8"/>
<circle cx="247.1" cy="165.1" r="3.6" fill="#bcbcbc" stroke="#c8c8c8" stroke-width="0.8"/>
<circle cx="299.8" cy="162.4" r="3.6" fill="#bcbcbc" stroke="#c8c8c8" stroke-width="0.8"/>
<circle cx="308.0" cy="162.4" r="3.6" fill="#bcbcbc" stroke="#c8c8c8" stroke-width="0.8"/>
<circle cx="312.5" cy="162.4" r="3.6" fill="#bcbcbc" stroke="#c8c8c8" stroke-width="0.8"/>
<circle cx="310.7" cy="167.8" r="3.6" fill="#bcbcbc" stroke="#c8c8c8" stroke-width="0.8"/>
<circle cx="310.7" cy="173.3" r="3.6" fill="#bcbcbc" stroke="#c8c8c8" stroke-width="0.8"/>
<circle cx="318.0" cy="159.6" r="3.6" fill="#bcbcbc" stroke="#c8c8c8" stroke-width="0.8"/>
<circle cx="321.6" cy="158.7" r="3.6" fill="#bcbcbc" stroke="#c8c8c8" stroke-width="0.8"/>
<circle cx="325.3" cy="166.0" r="3.6" fill="#bcbcbc" stroke="#c8c8c8" stroke-width="0.8"/>
<circle cx="276.2" cy="158.7" r="3.6" fill="#bcbcbc" stroke="#c8c8c8" stroke-width="0.8"/>
<circle cx="272.5" cy="164.2" r="3.6" fill="#bcbcbc" stroke="#c8c8c8" stroke-width="0.8"/>
<circle cx="265.3" cy="162.4" r="3.6" fill="#bcbcbc" stroke="#c8c8c8" stroke-width="0.8"/>
<circle cx="259.8" cy="164.2" r="3.6" fill="#bcbcbc" stroke="#c8c8c8" stroke-width="0.8"/>
<circle cx="270.7" cy="166.9" r="3.6" fill="#bcbcbc" stroke="#c8c8c8" stroke-width="0.8"/>
<circle cx="281.6" cy="167.8" r="3.6" fill="#bcbcbc" stroke="#c8c8c8" stroke-width="0.8"/>
<circle cx="285.3" cy="173.3" r="3.6" fill="#bcbcbc" stroke="#c8c8c8" stroke-width="0.8"/>
<circle cx="285.3" cy="178.7" r="3.6" fill="#bcbcbc" stroke="#c8c8c8" stroke-width="0.8"/>
<circle cx="295.3" cy="182.4" r="3.6" fill="#bcbcbc" stroke="#c8c8c8" stroke-width="0.8"/>
<circle cx="319.8" cy="179.6" r="3.6" fill="#bcbcbc" stroke="#c8c8c8" stroke-width="0.8"/>
<circle cx="321.6" cy="184.2" r="3.6" fill="#bcbcbc" stroke="#c8c8c8" stroke-width="0.8"/>
<circle cx="350.7" cy="156.0" r="3.6" fill="#bcbcbc" stroke="#c8c8c8" stroke-width="0.8"/>
<circle cx="352.5" cy="164.2" r="3.6" fill="#bcbcbc" stroke="#c8c8c8" stroke-width="0.8"/>
<circle cx="356.2" cy="169.6" r="3.6" fill="#bcbcbc" stroke="#c8c8c8" stroke-width="0.8"/>
<circle cx="347.1" cy="171.5" r="3.6" fill="#bcbcbc" stroke="#c8c8c8" stroke-width="0.8"/>
<circle cx="345.3" cy="176.9" r="3.6" fill="#bcbcbc" stroke="#c8c8c8" stroke-width="0.8"/>
<circle cx="354.4" cy="178.7" r="3.6" fill="#bcbcbc" stroke="#c8c8c8" stroke-width="0.8"/>
<circle cx="430.7" cy="134.2" r="3.6" fill="#bcbcbc" stroke="#c8c8c8" stroke-width="0.8"/>
<circle cx="441.6" cy="129.6" r="3.6" fill="#bcbcbc" stroke="#c8c8c8" stroke-width="0.8"/>
<circle cx="372.5" cy="140.5" r="3.6" fill="#bcbcbc" stroke="#c8c8c8" stroke-width="0.8"/>
<circle cx="363.5" cy="146.9" r="3.6" fill="#bcbcbc" stroke="#c8c8c8" stroke-width="0.8"/>
<circle cx="359.8" cy="156.0" r="3.6" fill="#bcbcbc" stroke="#c8c8c8" stroke-width="0.8"/>
<circle cx="361.6" cy="158.7" r="3.6" fill="#bcbcbc" stroke="#c8c8c8" stroke-width="0.8"/>
<circle cx="368.9" cy="155.1" r="3.6" fill="#bcbcbc" stroke="#c8c8c8" stroke-width="0.8"/>
<circle cx="370.7" cy="160.5" r="3.6" fill="#bcbcbc" stroke="#c8c8c8" stroke-width="0.8"/>
<circle cx="376.2" cy="156.9" r="3.6" fill="#bcbcbc" stroke="#c8c8c8" stroke-width="0.8"/>
<circle cx="384.4" cy="162.4" r="3.6" fill="#bcbcbc" stroke="#c8c8c8" stroke-width="0.8"/>
<circle cx="403.5" cy="160.5" r="3.6" fill="#bcbcbc" stroke="#c8c8c8" stroke-width="0.8"/>
<circle cx="422.5" cy="156.9" r="3.6" fill="#bcbcbc" stroke="#c8c8c8" stroke-width="0.8"/>
<circle cx="398.0" cy="167.8" r="3.6" fill="#bcbcbc" stroke="#c8c8c8" stroke-width="0.8"/>
<circle cx="403.5" cy="170.5" r="3.6" fill="#bcbcbc" stroke="#c8c8c8" stroke-width="0.8"/>
<circle cx="395.3" cy="173.3" r="3.6" fill="#bcbcbc" stroke="#c8c8c8" stroke-width="0.8"/>
<circle cx="371.6" cy="173.3" r="3.6" fill="#bcbcbc" stroke="#c8c8c8" stroke-width="0.8"/>
<circle cx="378.0" cy="172.4" r="3.6" fill="#bcbcbc" stroke="#c8c8c8" stroke-width="0.8"/>
<circle cx="383.5" cy="173.3" r="3.6" fill="#bcbcbc" stroke="#c8c8c8" stroke-width="0.8"/>
<circle cx="420.7" cy="170.5" r="3.6" fill="#bcbcbc" stroke="#c8c8c8" stroke-width="0.8"/>
<circle cx="430.7" cy="178.7" r="3.6" fill="#bcbcbc" stroke="#c8c8c8" stroke-width="0.8"/>
<circle cx="438.0" cy="179.6" r="3.6" fill="#bcbcbc" stroke="#c8c8c8" stroke-width="0.8"/>
<circle cx="444.4" cy="166.9" r="3.6" fill="#bcbcbc" stroke="#c8c8c8" stroke-width="0.8"/>
<circle cx="452.5" cy="166.0" r="3.6" fill="#bcbcbc" stroke="#c8c8c8" stroke-width="0.8"/>
<circle cx="448.9" cy="171.5" r="3.6" fill="#bcbcbc" stroke="#c8c8c8" stroke-width="0.8"/>
<circle cx="456.2" cy="178.7" r="3.6" fill="#bcbcbc" stroke="#c8c8c8" stroke-width="0.8"/>
<circle cx="397.1" cy="184.2" r="3.6" fill="#bcbcbc" stroke="#c8c8c8" stroke-width="0.8"/>
<circle cx="442.0" cy="129.6" r="3.6" fill="#bcbcbc" stroke="#c8c8c8" stroke-width="0.8"/>
<circle cx="432.9" cy="134.2" r="3.6" fill="#bcbcbc" stroke="#c8c8c8" stroke-width="0.8"/>
<circle cx="505.6" cy="151.5" r="3.6" fill="#bcbcbc" stroke="#c8c8c8" stroke-width="0.8"/>
<circle cx="444.7" cy="166.0" r="3.6" fill="#bcbcbc" stroke="#c8c8c8" stroke-width="0.8"/>
<circle cx="452.9" cy="165.1" r="3.6" fill="#bcbcbc" stroke="#c8c8c8" stroke-width="0.8"/>
<circle cx="449.3" cy="170.5" r="3.6" fill="#bcbcbc" stroke="#c8c8c8" stroke-width="0.8"/>
<circle cx="437.5" cy="178.7" r="3.6" fill="#bcbcbc" stroke="#c8c8c8" stroke-width="0.8"/>
<circle cx="456.5" cy="177.8" r="3.6" fill="#bcbcbc" stroke="#c8c8c8" stroke-width="0.8"/>
<circle cx="489.3" cy="179.6" r="3.6" fill="#bcbcbc" stroke="#c8c8c8" stroke-width="0.8"/>
<circle cx="496.5" cy="176.0" r="3.6" fill="#bcbcbc" stroke="#c8c8c8" stroke-width="0.8"/>
<circle cx="513.8" cy="184.2" r="3.6" fill="#bcbcbc" stroke="#c8c8c8" stroke-width="0.8"/>
<circle cx="128.0" cy="191.5" r="3.6" fill="#bcbcbc" stroke="#c8c8c8" stroke-width="0.8"/>
<circle cx="295.3" cy="183.5" r="3.6" fill="#bcbcbc" stroke="#c8c8c8" stroke-width="0.8"/>
<circle cx="320.7" cy="185.6" r="3.6" fill="#bcbcbc" stroke="#c8c8c8" stroke-width="0.8"/>
<circle cx="321.6" cy="182.5" r="3.6" fill="#bcbcbc" stroke="#c8c8c8" stroke-width="0.8"/>
<circle cx="371.6" cy="188.9" r="3.6" fill="#bcbcbc" stroke="#c8c8c8" stroke-width="0.8"/>
<circle cx="380.7" cy="188.0" r="3.6" fill="#bcbcbc" stroke="#c8c8c8" stroke-width="0.8"/>
<circle cx="398.0" cy="185.6" r="3.6" fill="#bcbcbc" stroke="#c8c8c8" stroke-width="0.8"/>
<circle cx="410.7" cy="191.5" r="3.6" fill="#bcbcbc" stroke="#c8c8c8" stroke-width="0.8"/>
<circle cx="394.4" cy="205.3" r="3.6" fill="#bcbcbc" stroke="#c8c8c8" stroke-width="0.8"/>
<circle cx="398.4" cy="206.2" r="3.6" fill="#bcbcbc" stroke="#c8c8c8" stroke-width="0.8"/>
<circle cx="437.1" cy="182.4" r="3.6" fill="#bcbcbc" stroke="#c8c8c8" stroke-width="0.8"/>
<circle cx="478.4" cy="213.8" r="3.6" fill="#bcbcbc" stroke="#c8c8c8" stroke-width="0.8"/>
<circle cx="490.5" cy="188.9" r="3.6" fill="#bcbcbc" stroke="#c8c8c8" stroke-width="0.8"/>
<circle cx="513.8" cy="184.2" r="3.6" fill="#bcbcbc" stroke="#c8c8c8" stroke-width="0.8"/>
<circle cx="274.4" cy="130.5" r="3.6" fill="#bcbcbc" stroke="#c8c8c8" stroke-width="0.8"/>
<circle cx="277.1" cy="131.9" r="3.6" fill="#bcbcbc" stroke="#c8c8c8" stroke-width="0.8"/>
<circle cx="271.6" cy="133.3" r="3.6" fill="#bcbcbc" stroke="#c8c8c8" stroke-width="0.8"/>
<circle cx="260.7" cy="141.5" r="3.6" fill="#bcbcbc" stroke="#c8c8c8" stroke-width="0.8"/>
<circle cx="266.2" cy="142.8" r="3.6" fill="#bcbcbc" stroke="#c8c8c8" stroke-width="0.8"/>
<circle cx="270.7" cy="141.5" r="3.6" fill="#bcbcbc" stroke="#c8c8c8" stroke-width="0.8"/>
<circle cx="269.8" cy="146.9" r="3.6" fill="#bcbcbc" stroke="#c8c8c8" stroke-width="0.8"/>
<circle cx="263.5" cy="147.8" r="3.6" fill="#bcbcbc" stroke="#c8c8c8" stroke-width="0.8"/>
<circle cx="280.7" cy="138.7" r="3.6" fill="#bcbcbc" stroke="#c8c8c8" stroke-width="0.8"/>
<circle cx="286.2" cy="139.6" r="3.6" fill="#bcbcbc" stroke="#c8c8c8" stroke-width="0.8"/>
<circle cx="278.9" cy="144.2" r="3.6" fill="#bcbcbc" stroke="#c8c8c8" stroke-width="0.8"/>
<circle cx="280.7" cy="149.6" r="3.6" fill="#bcbcbc" stroke="#c8c8c8" stroke-width="0.8"/>
<circle cx="288.0" cy="146.9" r="3.6" fill="#bcbcbc" stroke="#c8c8c8" stroke-width="0.8"/>
<circle cx="294.4" cy="143.3" r="3.6" fill="#bcbcbc" stroke="#c8c8c8" stroke-width="0.8"/>
<circle cx="298.0" cy="136.0" r="3.6" fill="#bcbcbc" stroke="#c8c8c8" stroke-width="0.8"/>
<circle cx="296.2" cy="147.8" r="3.6" fill="#bcbcbc" stroke="#c8c8c8" stroke-width="0.8"/>
<circle cx="305.3" cy="146.9" r="3.6" fill="#bcbcbc" stroke="#c8c8c8" stroke-width="0.8"/>
<circle cx="306.2" cy="141.5" r="3.6" fill="#bcbcbc" stroke="#c8c8c8" stroke-width="0.8"/>
<circle cx="312.1" cy="129.6" r="3.6" fill="#bcbcbc" stroke="#c8c8c8" stroke-width="0.8"/>
<circle cx="344.4" cy="129.6" r="3.6" fill="#bcbcbc" stroke="#c8c8c8" stroke-width="0.8"/>
<circle cx="338.0" cy="136.5" r="3.6" fill="#bcbcbc" stroke="#c8c8c8" stroke-width="0.8"/>
<circle cx="351.6" cy="141.0" r="3.6" fill="#bcbcbc" stroke="#c8c8c8" stroke-width="0.8"/>
<circle cx="309.8" cy="142.4" r="3.6" fill="#bcbcbc" stroke="#c8c8c8" stroke-width="0.8"/>
<circle cx="318.0" cy="147.4" r="3.6" fill="#bcbcbc" stroke="#c8c8c8" stroke-width="0.8"/>
<circle cx="323.0" cy="146.5" r="3.6" fill="#bcbcbc" stroke="#c8c8c8" stroke-width="0.8"/>
<circle cx="327.1" cy="153.3" r="3.6" fill="#bcbcbc" stroke="#c8c8c8" stroke-width="0.8"/>
<circle cx="348.0" cy="148.3" r="3.6" fill="#bcbcbc" stroke="#c8c8c8" stroke-width="0.8"/>
<circle cx="354.4" cy="148.7" r="3.6" fill="#bcbcbc" stroke="#c8c8c8" stroke-width="0.8"/>
<circle cx="350.7" cy="154.2" r="3.6" fill="#bcbcbc" stroke="#c8c8c8" stroke-width="0.8"/>
</g>
<g clip-path="url(#pc)" stroke="#5a5a5a" stroke-width="1.3" fill="none">
<line x1="-652.8" y1="-381.5" x2="532.2" y2="410.5"/>
<line x1="-415.80000000000007" y1="-302.3" x2="532.2" y2="331.3"/>
<line x1="-178.80000000000007" y1="-223.10000000000002" x2="532.2" y2="252.10000000000002"/>
<line x1="58.19999999999993" y1="-143.9" x2="532.2" y2="172.9"/>
<line x1="295.19999999999993" y1="-64.7" x2="532.2" y2="93.7"/>
</g>
<g clip-path="url(#pc)">
<circle cx="162" cy="111.8" r="4.6" fill="#b8e8fa"/><circle cx="162" cy="111.8" r="3.5" fill="#00aeef" stroke="#0099d8" stroke-width="0.7"/>
<circle cx="477.4" cy="174.4" r="4.1" fill="#b8e8fa"/><circle cx="477.4" cy="174.4" r="3.0" fill="#00aeef" stroke="#0099d8" stroke-width="0.7"/>
<circle cx="479.6" cy="177.6" r="4.1" fill="#b8e8fa"/><circle cx="479.6" cy="177.6" r="3.0" fill="#00aeef" stroke="#0099d8" stroke-width="0.7"/>
<circle cx="231" cy="112.6" r="4.6" fill="#b8e8fa"/><circle cx="231" cy="112.6" r="3.5" fill="#00aeef" stroke="#0099d8" stroke-width="0.7"/>
<circle cx="258.4" cy="109.4" r="4.6" fill="#b8e8fa"/><circle cx="258.4" cy="109.4" r="3.5" fill="#00aeef" stroke="#0099d8" stroke-width="0.7"/>
<circle cx="287" cy="158.4" r="4.6" fill="#b8e8fa"/><circle cx="287" cy="158.4" r="3.5" fill="#00aeef" stroke="#0099d8" stroke-width="0.7"/>
<circle cx="299.5" cy="200.5" r="4.6" fill="#b8e8fa"/><circle cx="299.5" cy="200.5" r="3.5" fill="#00aeef" stroke="#0099d8" stroke-width="0.7"/>
<circle cx="143.8" cy="100" r="4.6" fill="#ffcccc"/><circle cx="143.8" cy="100" r="3.5" fill="#ee0000" stroke="#d40000" stroke-width="0.7"/>
<circle cx="168.7" cy="119.4" r="4.6" fill="#ffcccc"/><circle cx="168.7" cy="119.4" r="3.5" fill="#ee0000" stroke="#d40000" stroke-width="0.7"/>
<circle cx="318.5" cy="74.7" r="4.6" fill="#ffcccc"/><circle cx="318.5" cy="74.7" r="3.5" fill="#ee0000" stroke="#d40000" stroke-width="0.7"/>
<circle cx="314.4" cy="81.3" r="4.6" fill="#ffcccc"/><circle cx="314.4" cy="81.3" r="3.5" fill="#ee0000" stroke="#d40000" stroke-width="0.7"/>
<circle cx="341.3" cy="111.5" r="4.6" fill="#ffcccc"/><circle cx="341.3" cy="111.5" r="3.5" fill="#ee0000" stroke="#d40000" stroke-width="0.7"/>
<circle cx="412" cy="92.9" r="4.6" fill="#ffcccc"/><circle cx="412" cy="92.9" r="3.5" fill="#ee0000" stroke="#d40000" stroke-width="0.7"/>
<circle cx="381.4" cy="157.8" r="4.6" fill="#ffcccc"/><circle cx="381.4" cy="157.8" r="3.5" fill="#ee0000" stroke="#d40000" stroke-width="0.7"/>
<circle cx="339.9" cy="166.8" r="4.6" fill="#ffcccc"/><circle cx="339.9" cy="166.8" r="3.5" fill="#ee0000" stroke="#d40000" stroke-width="0.7"/>
<circle cx="230.6" cy="84.6" r="4.6" fill="#ffcccc"/><circle cx="230.6" cy="84.6" r="3.5" fill="#ee0000" stroke="#d40000" stroke-width="0.7"/>
<circle cx="220.4" cy="108.6" r="4.6" fill="#ffcccc"/><circle cx="220.4" cy="108.6" r="3.5" fill="#ee0000" stroke="#d40000" stroke-width="0.7"/>
<circle cx="227.6" cy="120" r="4.6" fill="#ffcccc"/><circle cx="227.6" cy="120" r="3.5" fill="#ee0000" stroke="#d40000" stroke-width="0.7"/>
<circle cx="237.6" cy="129" r="4.6" fill="#ffcccc"/><circle cx="237.6" cy="129" r="3.5" fill="#ee0000" stroke="#d40000" stroke-width="0.7"/>
<circle cx="256.4" cy="97.4" r="4.6" fill="#ffcccc"/><circle cx="256.4" cy="97.4" r="3.5" fill="#ee0000" stroke="#d40000" stroke-width="0.7"/>
<circle cx="259.6" cy="114.6" r="4.6" fill="#ffcccc"/><circle cx="259.6" cy="114.6" r="3.5" fill="#ee0000" stroke="#d40000" stroke-width="0.7"/>
<circle cx="267.2" cy="117.4" r="4.6" fill="#ffcccc"/><circle cx="267.2" cy="117.4" r="3.5" fill="#ee0000" stroke="#d40000" stroke-width="0.7"/>
<circle cx="265.4" cy="130.2" r="4.6" fill="#ffcccc"/><circle cx="265.4" cy="130.2" r="3.5" fill="#ee0000" stroke="#d40000" stroke-width="0.7"/>
<circle cx="291.6" cy="111.6" r="4.6" fill="#ffcccc"/><circle cx="291.6" cy="111.6" r="3.5" fill="#ee0000" stroke="#d40000" stroke-width="0.7"/>
<circle cx="293.2" cy="122.4" r="4.6" fill="#ffcccc"/><circle cx="293.2" cy="122.4" r="3.5" fill="#ee0000" stroke="#d40000" stroke-width="0.7"/>
<circle cx="375.2" cy="189.2" r="4.6" fill="#ffcccc"/><circle cx="375.2" cy="189.2" r="3.5" fill="#ee0000" stroke="#d40000" stroke-width="0.7"/>
</g>
<path d="M58.20 331.30V325.80 M93.87 331.30V325.80 M114.74 331.30V325.80 M129.54 331.30V325.80 M141.03 331.30V325.80 M150.41 331.30V325.80 M158.34 331.30V325.80 M165.22 331.30V325.80 M171.28 331.30V325.80 M176.70 331.30V325.80 M212.37 331.30V325.80 M233.24 331.30V325.80 M248.04 331.30V325.80 M259.53 331.30V325.80 M268.91 331.30V325.80 M276.84 331.30V325.80 M283.72 331.30V325.80 M289.78 331.30V325.80 M295.20 331.30V325.80 M330.87 331.30V325.80 M351.74 331.30V325.80 M366.54 331.30V325.80 M378.03 331.30V325.80 M387.41 331.30V325.80 M395.34 331.30V325.80 M402.22 331.30V325.80 M408.28 331.30V325.80 M413.70 331.30V325.80 M449.37 331.30V325.80 M470.24 331.30V325.80 M485.04 331.30V325.80 M496.53 331.30V325.80 M505.91 331.30V325.80 M513.84 331.30V325.80 M520.72 331.30V325.80 M526.78 331.30V325.80 M58.20 331.30H64.20 M58.20 307.46H64.20 M58.20 293.51H64.20 M58.20 283.62H64.20 M58.20 275.94H64.20 M58.20 269.67H64.20 M58.20 264.37H64.20 M58.20 259.78H64.20 M58.20 255.72H64.20 M58.20 252.10H64.20 M58.20 228.26H64.20 M58.20 214.31H64.20 M58.20 204.42H64.20 M58.20 196.74H64.20 M58.20 190.47H64.20 M58.20 185.17H64.20 M58.20 180.58H64.20 M58.20 176.52H64.20 M58.20 172.90H64.20 M58.20 149.06H64.20 M58.20 135.11H64.20 M58.20 125.22H64.20 M58.20 117.54H64.20 M58.20 111.27H64.20 M58.20 105.97H64.20 M58.20 101.38H64.20 M58.20 97.32H64.20 M58.20 93.70H64.20 M58.20 69.86H64.20 M58.20 55.91H64.20 M58.20 46.02H64.20 M58.20 38.34H64.20 M58.20 32.07H64.20 M58.20 26.77H64.20 M58.20 22.18H64.20 M58.20 18.12H64.20" stroke="#808080" stroke-width="1.2" fill="none"/>
<rect x="58.2" y="218.3" width="144.3" height="113.0" fill="#fff" stroke="#808080" stroke-width="1"/>
<rect x="58.2" y="14.5" width="474.00000000000006" height="316.8" fill="none" stroke="#808080" stroke-width="1.5"/>
<circle cx="91" cy="250.7" r="3.7" fill="#ee0000" stroke="#d40000" stroke-width="0.6"/>
<circle cx="91" cy="265.7" r="3.7" fill="#00aeef" stroke="#0099d8" stroke-width="0.6"/>
<circle cx="91" cy="302.2" r="3.7" fill="#dcdcdc" stroke="#e9e9e9" stroke-width="0.8"/>
<circle cx="91" cy="316.4" r="3.6" fill="#bcbcbc" stroke="#c8c8c8" stroke-width="0.8"/>
<g font-family='"Liberation Sans", sans-serif' fill="#595959" stroke="#595959" stroke-width="0.3"><text x="31.8" y="17.6" font-size="11.2" textLength="17.2" lengthAdjust="spacingAndGlyphs" text-anchor="start" >100</text>
<text x="37.6" y="95.4" font-size="11.2" textLength="11.5" lengthAdjust="spacingAndGlyphs" text-anchor="start" >10</text>
<text x="43.6" y="174.6" font-size="11.2" textLength="5.4" lengthAdjust="spacingAndGlyphs" text-anchor="start" >1</text>
<text x="34" y="253.8" font-size="11.2" textLength="15" lengthAdjust="spacingAndGlyphs" text-anchor="start" >0.1</text>
<text x="27.6" y="333.5" font-size="11.2" textLength="21.1" lengthAdjust="spacingAndGlyphs" text-anchor="start" >0.01</text>
<text x="47.5" y="348.7" font-size="11.2" textLength="21.8" lengthAdjust="spacingAndGlyphs" text-anchor="start" >0.10</text>
<text x="166.2" y="348.7" font-size="11.2" textLength="15.3" lengthAdjust="spacingAndGlyphs" text-anchor="start" >1.0</text>
<text x="282" y="348.7" font-size="11.2" textLength="12" lengthAdjust="spacingAndGlyphs" text-anchor="start" >10</text>
<text x="397.3" y="348.7" font-size="11.2" textLength="18.3" lengthAdjust="spacingAndGlyphs" text-anchor="start" >100</text>
<text x="511.6" y="348.7" font-size="11.2" textLength="27.4" lengthAdjust="spacingAndGlyphs" text-anchor="start" >1,000</text>
<text x="240" y="369" font-size="11.5" textLength="101" lengthAdjust="spacingAndGlyphs" text-anchor="start" >Ore (million tons)</text>
<text transform="translate(21.5,190.8) rotate(-90)" font-size="12" textLength="64.5" lengthAdjust="spacingAndGlyphs">Grade (g/t)</text>
<text x="290.5" y="67.2" font-size="11.5" textLength="61" lengthAdjust="spacingAndGlyphs" text-anchor="start" >Lake Shore</text>
<text x="323.3" y="87.6" font-size="11.5" textLength="47.8" lengthAdjust="spacingAndGlyphs" text-anchor="start" >Macassa</text>
<text x="409.2" y="84.6" font-size="11.5" textLength="55.8" lengthAdjust="spacingAndGlyphs" text-anchor="start" >McIntyre-</text>
<text x="428.8" y="96" font-size="11.5" textLength="50.8" lengthAdjust="spacingAndGlyphs" text-anchor="start" >Hollinger</text>
<text x="347.9" y="117.0" font-size="11.5" textLength="36" lengthAdjust="spacingAndGlyphs" text-anchor="start" >Doyon</text>
<text x="379.6" y="149.6" font-size="11.5" textLength="77" lengthAdjust="spacingAndGlyphs" text-anchor="start" >Central Camp</text>
<text x="462.2" y="165.9" font-size="11.5" textLength="47" lengthAdjust="spacingAndGlyphs" text-anchor="start" >Malartic</text>
<text x="462.2" y="193.7" font-size="11.5" textLength="56.3" lengthAdjust="spacingAndGlyphs" text-anchor="start" >Côté Gold</text>
<text x="69.5" y="239.1" font-size="11.5" textLength="119" lengthAdjust="spacingAndGlyphs" text-anchor="start" >Abitibi greenstone belt:</text>
<text x="104.4" y="254.1" font-size="11.5" textLength="84" lengthAdjust="spacingAndGlyphs" text-anchor="start" >Mine production</text>
<text x="104.4" y="268.9" font-size="11.5" textLength="44" lengthAdjust="spacingAndGlyphs" text-anchor="start" >Reserves</text>
<text x="70.3" y="289.6" font-size="11.5" textLength="108.2" lengthAdjust="spacingAndGlyphs" text-anchor="start" >World gold database:</text>
<text x="104.4" y="306.3" font-size="11.5" textLength="84" lengthAdjust="spacingAndGlyphs" text-anchor="start" >Mine production</text>
<text x="104.4" y="320.4" font-size="11.5" textLength="44" lengthAdjust="spacingAndGlyphs" text-anchor="start" >Reserves</text>
<text transform="translate(85.56,26.29) rotate(33.76)" font-size="11.6" textLength="60.5" lengthAdjust="spacingAndGlyphs">10 tons Au</text>
<text transform="translate(203.87,26.40) rotate(33.76)" font-size="11.6" textLength="66" lengthAdjust="spacingAndGlyphs">100 tons Au</text>
<text transform="translate(322.95,26.79) rotate(33.76)" font-size="11.6" textLength="77" lengthAdjust="spacingAndGlyphs">1,000 tons Au</text>
<text transform="translate(439.04,25.18) rotate(33.76)" font-size="11.6" textLength="85" lengthAdjust="spacingAndGlyphs">10,000 tons Au</text></g>
</svg>
</body></html>
